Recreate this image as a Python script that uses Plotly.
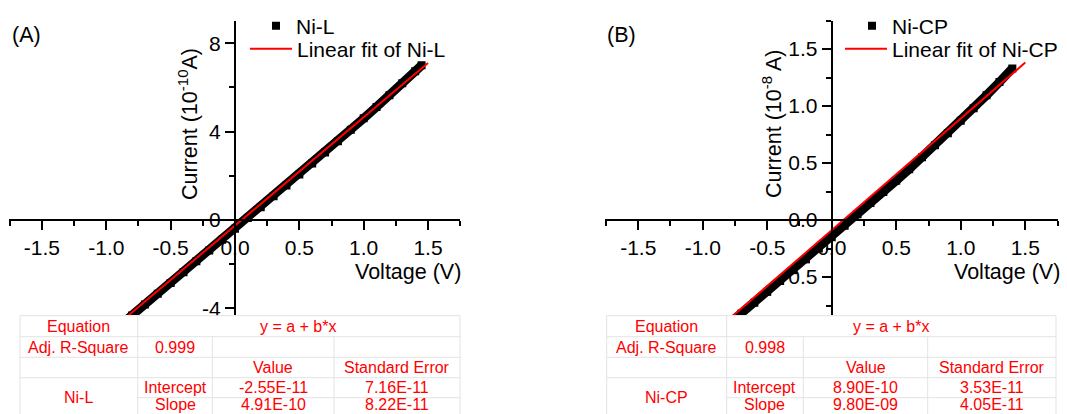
import numpy as np
import plotly.graph_objects as go

W, H = 1067, 414
FONT = "Arial, Liberation Sans, sans-serif"
RED = "#ff0000"

# ---- Ni-L measurement (current in 1e-10 A) ----
v_nil = [-1.0, -0.9, -0.8, -0.7, -0.6, -0.5, -0.4, -0.3, -0.2, -0.1, 0.0,
         0.1, 0.2, 0.3, 0.4, 0.5, 0.6, 0.7, 0.8, 0.9, 1.0, 1.1, 1.2, 1.3, 1.4, 1.45]
i_nil = [-5.30, -4.81, -4.32, -3.83, -3.34, -2.85, -2.36, -1.87, -1.38, -0.89, -0.40,
         0.09, 0.58, 1.07, 1.56, 2.06, 2.56, 3.06, 3.57, 4.08, 4.60, 5.12, 5.65, 6.19, 6.73, 7.0]
fit_nil_a = -2.55e-11   # intercept (A)
fit_nil_b = 4.91e-10    # slope (A/V)
fit_nil_v = [-1.0, 1.5]

# ---- Ni-CP measurement (current in 1e-8 A) ----
v_ncp = [-0.9, -0.8, -0.7, -0.6, -0.5, -0.4, -0.3, -0.2, -0.1, 0.0,
         0.1, 0.2, 0.3, 0.4, 0.5, 0.6, 0.7, 0.8, 0.9, 1.0, 1.1, 1.2, 1.3, 1.4]
i_ncp = [-1.01, -0.915, -0.82, -0.725, -0.63, -0.535, -0.44, -0.345, -0.25, -0.15,
         -0.05, 0.05, 0.15, 0.245, 0.345, 0.445, 0.55, 0.655, 0.76, 0.87, 0.98, 1.095, 1.21, 1.33]
fit_ncp_a = -8.90e-10   # intercept (A)
fit_ncp_b = 9.80e-09    # slope (A/V)
fit_ncp_v = [-0.9, 1.5]

# ---- tick labels ----
x_ticks = [-1.5, -1.0, -0.5, 0.0, 0.5, 1.0, 1.5]
x_ticktext = ["-1.5", "-1.0", "-0.5", "0.0", "0.5", "1.0", "1.5"]
y_ticks_nil = [-4, 0, 4, 8]
y_ticktext_nil = ["-4", "0", "4", "8"]
y_ticks_ncp = [-0.5, 0.0, 0.5, 1.0, 1.5]
y_ticktext_ncp = ["-0.5", "0.0", "0.5", "1.0", "1.5"]

# ---- fit result tables ----
table_nil = {"name": "Ni-L", "r2": "0.999",
             "intercept": ("-2.55E-11", "7.16E-11"),
             "slope": ("4.91E-10", "8.22E-11")}
table_ncp = {"name": "Ni-CP", "r2": "0.998",
             "intercept": ("8.90E-10", "3.53E-11"),
             "slope": ("9.80E-09", "4.05E-11")}


def px(x):
    return x / W


def py(y):
    return 1 - y / H


fig = go.Figure()
BAND = 9

# panel A
nil_scale = 1e-10
fv = np.array(fit_nil_v)
fig.add_trace(go.Scatter(x=v_nil, y=i_nil, mode="lines", line=dict(color="black", width=BAND),
                         showlegend=False, hoverinfo="skip", xaxis="x", yaxis="y"))
fig.add_trace(go.Scatter(x=v_nil, y=i_nil, mode="markers", name="Ni-L",
                         marker=dict(symbol="square", size=8, color="black"),
                         xaxis="x", yaxis="y", legend="legend"))
fig.add_trace(go.Scatter(x=fv, y=(fit_nil_a + fit_nil_b * fv) / nil_scale, mode="lines",
                         name="Linear fit of Ni-L", line=dict(color=RED, width=2),
                         xaxis="x", yaxis="y", legend="legend2"))

# panel B
ncp_scale = 1e-8
fv2 = np.array(fit_ncp_v)
fig.add_trace(go.Scatter(x=v_ncp, y=i_ncp, mode="lines", line=dict(color="black", width=BAND),
                         showlegend=False, hoverinfo="skip", xaxis="x2", yaxis="y2"))
fig.add_trace(go.Scatter(x=v_ncp, y=i_ncp, mode="markers", name="Ni-CP",
                         marker=dict(symbol="square", size=8, color="black"),
                         xaxis="x2", yaxis="y2", legend="legend3"))
fig.add_trace(go.Scatter(x=fv2, y=(fit_ncp_a + fit_ncp_b * fv2) / ncp_scale, mode="lines",
                         name="Linear fit of Ni-CP", line=dict(color=RED, width=2),
                         xaxis="x2", yaxis="y2", legend="legend4"))

tickfont = dict(family=FONT, size=21, color="black")
common_x = dict(showgrid=False, zeroline=False, showline=True, linecolor="black", linewidth=2,
                ticks="outside", ticklen=9, tickwidth=2, tickcolor="black",
                tickvals=x_ticks, ticktext=x_ticktext, tickfont=tickfont,
                minor=dict(dtick=0.25, tick0=0, ticks="outside", ticklen=5, tickwidth=2,
                           tickcolor="black"),
                anchor="free", position=py(220), range=[-1.76, 1.75], fixedrange=True)
common_y = dict(showgrid=False, zeroline=False, showline=True, linecolor="black", linewidth=2,
                ticks="outside", ticklen=9, tickwidth=2, tickcolor="black", tickfont=tickfont,
                anchor="free", domain=[py(315), py(20.5)], fixedrange=True)


def legend_at(x, y_top, width):
    return dict(x=px(x), y=py(y_top), xanchor="left", yanchor="top", bgcolor="rgba(0,0,0,0)",
                font=dict(family=FONT, size=21, color="black"), tracegroupgap=0,
                itemwidth=width, borderwidth=0)


layout = dict(
    width=W, height=H, margin=dict(l=0, r=0, t=0, b=0, autoexpand=False),
    paper_bgcolor="white", plot_bgcolor="rgba(0,0,0,0)",
    font=dict(family=FONT, color="black"),
    xaxis=dict(common_x, domain=[px(8.5), px(460.2)]),
    yaxis=dict(common_y, position=px(235), range=[-4.30, 9.03],
               tickvals=y_ticks_nil, ticktext=y_ticktext_nil,
               minor=dict(dtick=2, tick0=0, ticks="outside", ticklen=5, tickwidth=2,
                          tickcolor="black")),
    xaxis2=dict(common_x, domain=[px(604.7), px(1057.5)]),
    yaxis2=dict(common_y, position=px(831.7), range=[-0.833, 1.75],
                tickvals=y_ticks_ncp, ticktext=y_ticktext_ncp,
                minor=dict(dtick=0.25, tick0=0, ticks="outside", ticklen=5, tickwidth=2,
                           tickcolor="black")),
    legend=legend_at(256, 5.5, 30),
    legend2=legend_at(245, 28.5, 42),
    legend3=legend_at(852, 5.5, 30),
    legend4=legend_at(840, 28.5, 42),
)
fig.update_layout(**layout)

annotations = []
shapes = []


def text(x, y, s, size=21.5, color="black", angle=0, xanchor="center"):
    annotations.append(dict(x=px(x), y=py(y), xref="paper", yref="paper", text=s,
                            showarrow=False, xanchor=xanchor, yanchor="middle",
                            textangle=angle, font=dict(family=FONT, size=size, color=color)))


# panel letters and axis titles
text(26, 35, "(A)")
text(621, 35, "(B)")
text(463, 272, "Voltage (V)", xanchor="right")
text(1062, 272, "Voltage (V)", xanchor="right")
text(188, 124, "Current (10<sup>-10</sup>A)", angle=-90)
text(772, 124, "Current (10<sup>-8</sup> A)", angle=-90)


def draw_table(cols, tab):
    rows = [315.7, 336.7, 357.3, 377.7, 397.7, 414.0]
    c0, c1, c2, c3, c4 = cols
    grid = dict(color="#e3e3e3", width=1)

    def hline(y, xa, xb):
        shapes.append(dict(type="line", xref="paper", yref="paper", x0=px(xa), x1=px(xb),
                           y0=py(y), y1=py(y), line=grid))

    def vline(x, ya, yb):
        shapes.append(dict(type="line", xref="paper", yref="paper", x0=px(x), x1=px(x),
                           y0=py(ya), y1=py(yb), line=grid))

    shapes.append(dict(type="rect", xref="paper", yref="paper", x0=px(c0), x1=px(c4),
                       y0=py(rows[-1]), y1=py(rows[0]), fillcolor="white",
                       line=dict(width=0), layer="above"))
    for y in rows[:4]:
        hline(y, c0, c4)
    hline(rows[4], c1, c4)
    vline(c0, rows[0], rows[-1])
    vline(c1, rows[0], rows[-1])
    vline(c2, rows[1], rows[-1])
    vline(c3, rows[1], rows[-1])
    vline(c4, rows[0], rows[-1])

    mid = [(rows[k] + rows[k + 1]) / 2 for k in range(4)] + [rows[4] + 6.5]
    cc = [(c0 + c1) / 2, (c1 + c2) / 2, (c2 + c3) / 2, (c3 + c4) / 2]
    s = 16
    text(cc[0], mid[0], "Equation", s, RED)
    text((c1 + c4) / 2, mid[0], "y = a + b*x", s, RED)
    text(cc[0], mid[1], "Adj. R-Square", s, RED)
    text(cc[1], mid[1], tab["r2"], s, RED)
    text(cc[2], mid[2], "Value", s, RED)
    text(cc[3], mid[2], "Standard Error", s, RED)
    text(cc[0], rows[4], tab["name"], s, RED)
    text(cc[1], mid[3], "Intercept", s, RED)
    text(cc[2], mid[3], tab["intercept"][0], s, RED)
    text(cc[3], mid[3], tab["intercept"][1], s, RED)
    text(cc[1], mid[4], "Slope", s, RED)
    text(cc[2], mid[4], tab["slope"][0], s, RED)
    text(cc[3], mid[4], tab["slope"][1], s, RED)


draw_table([20, 137.7, 212.3, 334, 460], table_nil)
draw_table([606.7, 726.7, 803.3, 927.7, 1056], table_ncp)

fig.update_layout(annotations=annotations, shapes=shapes)
fig.write_html("out.html", config={"displayModeBar": False},
               post_script="document.body.style.margin = '0'; document.body.style.overflow = 'hidden';")
